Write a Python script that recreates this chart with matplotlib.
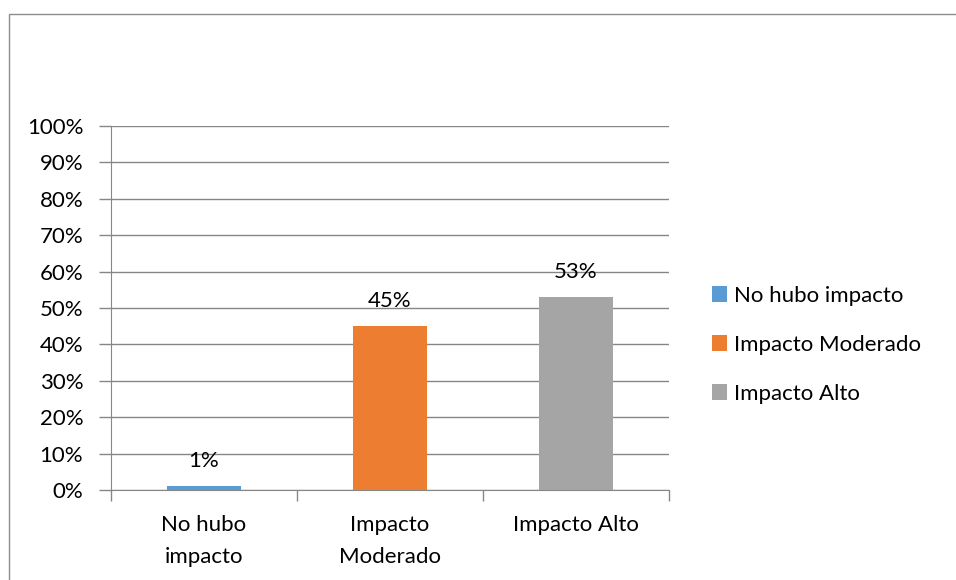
import matplotlib
matplotlib.use("Agg")
import matplotlib.pyplot as plt
from matplotlib.patches import Rectangle, Patch
import numpy as np

categories = ["No hubo\nimpacto", "Impacto\nModerado", "Impacto Alto"]
legend_labels = ["No hubo impacto", "Impacto Moderado", "Impacto Alto"]
values = [1, 45, 53]
colors = ["#5B9BD5", "#ED7D31", "#A5A5A5"]
yticks = list(range(0, 101, 10))

plt.rcParams['font.family'] = ['Lato', 'DejaVu Sans']
FS = 16

W, H = 956, 580
fig = plt.figure(figsize=(W/100, H/100), dpi=100)
fig.patches.append(Rectangle((9/W, -0.5), 1.2, 1.5 - 13.5/H, transform=fig.transFigure,
                             fill=False, edgecolor="#8c8c8c", linewidth=1.0))

ax = fig.add_axes([111/W, (H-490)/H, (669-111)/W, (490-126)/H])
x = np.arange(len(categories))
ax.bar(x, values, width=0.4, color=colors, zorder=3)
for xi, v in zip(x, values):
    ax.text(xi, v + 7.0, f"{v}%", ha="center", va="center", fontsize=FS, color="#000000")

ax.set_xlim(-0.5, len(categories) - 0.5)
ax.set_ylim(0, 100)
ax.set_yticks(yticks)
ax.set_yticklabels([f"{t}%" for t in yticks], fontsize=FS)
ax.yaxis.grid(True, color="#868686", linewidth=1.0, zorder=0)
ax.tick_params(axis="y", length=9, width=1, color="#868686", pad=11)
ax.set_xticks(x)
ax.set_xticklabels(categories, fontsize=FS, linespacing=1.75)
ax.set_xticks(np.arange(len(categories) + 1) - 0.5, minor=True)
ax.tick_params(axis="x", which="major", length=0, pad=18)
ax.tick_params(axis="x", which="minor", length=8, width=1, color="#868686")
for s in ["top", "right"]:
    ax.spines[s].set_visible(False)
for s in ["left", "bottom"]:
    ax.spines[s].set_color("#868686")

handles = [Patch(facecolor=c, edgecolor="none") for c in colors]
fig.legend(handles, legend_labels, loc="upper left", bbox_to_anchor=(703/W, 1 - 277/H),
           frameon=False, fontsize=FS, handlelength=0.7, handleheight=0.7,
           handletextpad=0.3, labelspacing=1.3, borderaxespad=0)

fig.savefig("out.png", dpi=100)
